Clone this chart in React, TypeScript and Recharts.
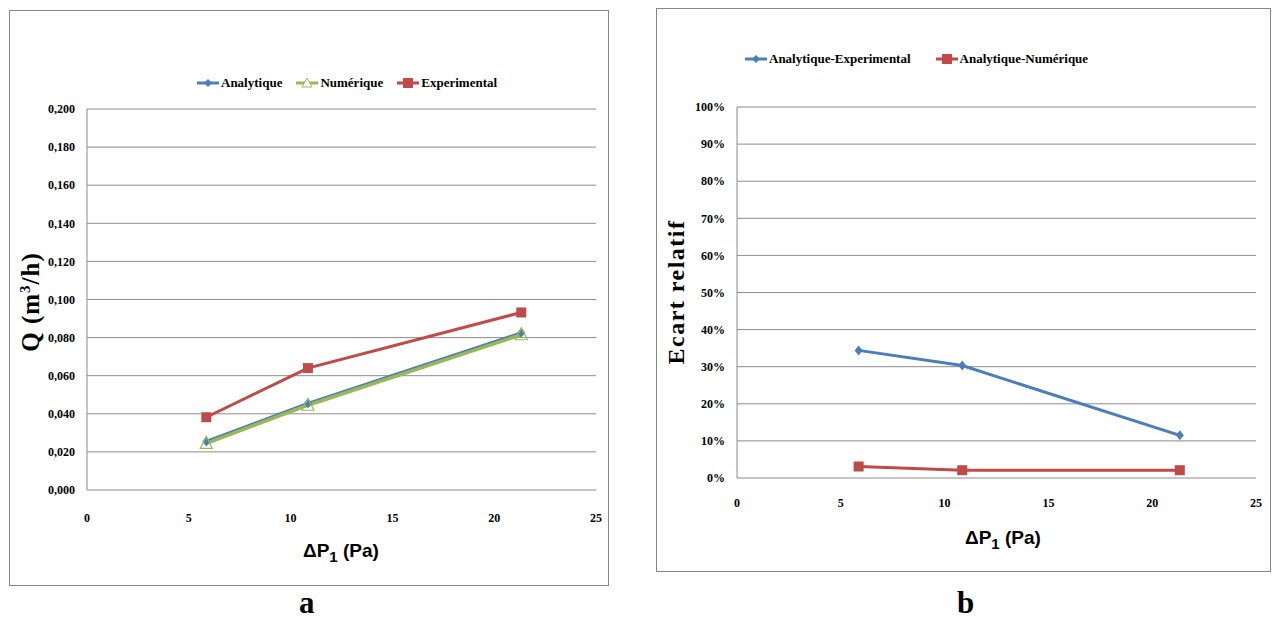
import React from 'react';
import { LineChart, Line, XAxis, YAxis, CartesianGrid, Legend } from 'recharts';

// pressure drop ΔP1 (Pa), shared by both panels
const deltaP = [5.86, 10.85, 21.33];

// panel a : flow rate Q (m3/h)
const analytique = [0.0255, 0.0455, 0.0825];
const numerique = [0.0245, 0.0445, 0.0815];
const experimental = [0.0382, 0.064, 0.0932];

// panel b : relative gap (%)
const ecartAnaExp = [34.4, 30.3, 11.5];
const ecartAnaNum = [3.1, 2.1, 2.1];

const xTicks = [0, 5, 10, 15, 20, 25];
const qTicks = [0, 0.02, 0.04, 0.06, 0.08, 0.1, 0.12, 0.14, 0.16, 0.18, 0.2];
const pctTicks = [0, 10, 20, 30, 40, 50, 60, 70, 80, 90, 100];

const BLUE = '#4a7ebb';
const RED = '#be4b48';
const GREEN = '#98b954';
const GRID = '#8c8c8c';

const dataA = deltaP.map((dp, i) => ({
  dp,
  analytique: analytique[i],
  numerique: numerique[i],
  experimental: experimental[i],
}));

const dataB = deltaP.map((dp, i) => ({
  dp,
  anaExp: ecartAnaExp[i],
  anaNum: ecartAnaNum[i],
}));

const tickStyle = { fontFamily: '"Liberation Serif", serif', fontWeight: 700, fontSize: 12, fill: '#000' };

const Diamond = (props: any) => {
  const { cx, cy } = props;
  if (cx == null || cy == null) return null;
  return <polygon points={`${cx},${cy - 5} ${cx + 4},${cy} ${cx},${cy + 5} ${cx - 4},${cy}`} fill={BLUE} />;
};

const Square = (props: any) => {
  const { cx, cy } = props;
  if (cx == null || cy == null) return null;
  return <rect x={cx - 5} y={cy - 5} width={10} height={10} fill={RED} />;
};

const Triangle = (props: any) => {
  const { cx, cy } = props;
  if (cx == null || cy == null) return null;
  return (
    <polygon
      points={`${cx},${cy - 7} ${cx + 6},${cy + 5} ${cx - 6},${cy + 5}`}
      fill="none"
      stroke={GREEN}
      strokeWidth={1.2}
    />
  );
};

const legendIcon = (type: string, color: string) => {
  let mark: React.ReactNode = null;
  if (type === 'diamond') mark = <polygon points="11,1 15,5 11,9 7,5" fill={color} />;
  if (type === 'square') mark = <rect x={6} y={0} width={10} height={10} fill={color} />;
  if (type === 'triangle')
    mark = <polygon points="11,0 16,9 6,9" fill="#fff" stroke={color} strokeWidth={1} />;
  return (
    <svg width={22} height={10} style={{ marginRight: 2 }}>
      <line x1={0} y1={5} x2={22} y2={5} stroke={color} strokeWidth={3} />
      {mark}
    </svg>
  );
};

const makeLegend = (items: { label: string; type: string; color: string }[], gap: number, left: number) => () => (
  <div style={{ display: 'flex', alignItems: 'center', height: 20, paddingLeft: left }}>
    {items.map((it) => (
      <div key={it.label} style={{ display: 'flex', alignItems: 'center', marginRight: gap }}>
        {legendIcon(it.type, it.color)}
        <span style={{ fontFamily: '"Liberation Serif", serif', fontWeight: 700, fontSize: 13, color: '#000' }}>
          {it.label}
        </span>
      </div>
    ))}
  </div>
);

const legendA = makeLegend(
  [
    { label: 'Analytique', type: 'diamond', color: BLUE },
    { label: 'Numérique', type: 'triangle', color: GREEN },
    { label: 'Experimental', type: 'square', color: RED },
  ],
  14,
  180
);

const legendB = makeLegend(
  [
    { label: 'Analytique-Experimental', type: 'diamond', color: BLUE },
    { label: 'Analytique-Numérique', type: 'square', color: RED },
  ],
  25,
  68
);

const serifTitle: React.CSSProperties = {
  position: 'absolute',
  fontFamily: '"Liberation Serif", serif',
  fontWeight: 700,
  color: '#000',
  whiteSpace: 'nowrap',
};

const sansTitle: React.CSSProperties = {
  position: 'absolute',
  fontFamily: '"Liberation Sans", sans-serif',
  fontWeight: 700,
  fontSize: 19,
  color: '#000',
  whiteSpace: 'nowrap',
};

export default function App() {
  return (
    <div style={{ position: 'absolute', left: 0, top: 0, width: 1278, height: 619, background: '#fff' }}>
      {/* panel a */}
      <div style={{ position: 'absolute', left: 9, top: 10, width: 598, height: 574, border: '1px solid #868686' }} />
      <div style={{ position: 'absolute', left: 9, top: 10 }}>
        <LineChart width={600} height={576} data={dataA} margin={{ top: 79, right: 13, bottom: 66, left: 8 }}>
          <CartesianGrid vertical={false} stroke={GRID} />
          <Legend verticalAlign="top" height={20} content={legendA} wrapperStyle={{ top: 63 }} />
          <XAxis
            type="number"
            dataKey="dp"
            domain={[0, 25]}
            ticks={xTicks}
            axisLine={false}
            tickLine={false}
            tickSize={21}
            tick={tickStyle}
          />
          <YAxis
            width={70}
            domain={[0, 0.2]}
            ticks={qTicks}
            tickFormatter={(v: number) => v.toFixed(3).replace('.', ',')}
            axisLine={{ stroke: GRID }}
            tickLine={false}
            tickSize={10}
            tick={tickStyle}
          />
          <Line dataKey="analytique" stroke={BLUE} strokeWidth={3} dot={<Diamond />} isAnimationActive={false} />
          <Line dataKey="numerique" stroke={GREEN} strokeWidth={3.5} dot={<Triangle />} isAnimationActive={false} />
          <Line dataKey="experimental" stroke={RED} strokeWidth={3} dot={<Square />} isAnimationActive={false} />
        </LineChart>
      </div>
      <div
        style={{
          ...serifTitle,
          fontSize: 25,
          letterSpacing: 1,
          left: 31,
          top: 302,
          transform: 'translate(-50%, -50%) rotate(-90deg)',
        }}
      >
        Q (m<sup style={{ fontSize: 15 }}>3</sup>/h)
      </div>
      <div style={{ ...sansTitle, left: 303, top: 540 }}>
        ΔP<sub style={{ fontSize: 15 }}>1</sub> (Pa)
      </div>
      <div style={{ ...serifTitle, fontSize: 31, left: 299, top: 585 }}>a</div>

      {/* panel b */}
      <div style={{ position: 'absolute', left: 656, top: 8, width: 613, height: 562, border: '1px solid #868686' }} />
      <div style={{ position: 'absolute', left: 656, top: 8 }}>
        <LineChart width={615} height={564} data={dataB} margin={{ top: 79, right: 15, bottom: 64, left: 21 }}>
          <CartesianGrid vertical={false} stroke={GRID} />
          <Legend verticalAlign="top" height={20} content={legendB} wrapperStyle={{ top: 41 }} />
          <XAxis
            type="number"
            dataKey="dp"
            domain={[0, 25]}
            ticks={xTicks}
            axisLine={false}
            tickLine={false}
            tickSize={18}
            tick={tickStyle}
          />
          <YAxis
            width={60}
            domain={[0, 100]}
            ticks={pctTicks}
            tickFormatter={(v: number) => `${v}%`}
            axisLine={{ stroke: GRID }}
            tickLine={false}
            tickSize={10}
            tick={tickStyle}
          />
          <Line dataKey="anaExp" stroke={BLUE} strokeWidth={3} dot={<Diamond />} isAnimationActive={false} />
          <Line dataKey="anaNum" stroke={RED} strokeWidth={3} dot={<Square />} isAnimationActive={false} />
        </LineChart>
      </div>
      <div
        style={{
          ...serifTitle,
          fontSize: 24,
          letterSpacing: 1.5,
          left: 676,
          top: 292,
          transform: 'translate(-50%, -50%) rotate(-90deg)',
        }}
      >
        Ecart relatif
      </div>
      <div style={{ ...sansTitle, left: 965, top: 527 }}>
        ΔP<sub style={{ fontSize: 15 }}>1</sub> (Pa)
      </div>
      <div style={{ ...serifTitle, fontSize: 31, left: 957, top: 585 }}>b</div>
    </div>
  );
}
